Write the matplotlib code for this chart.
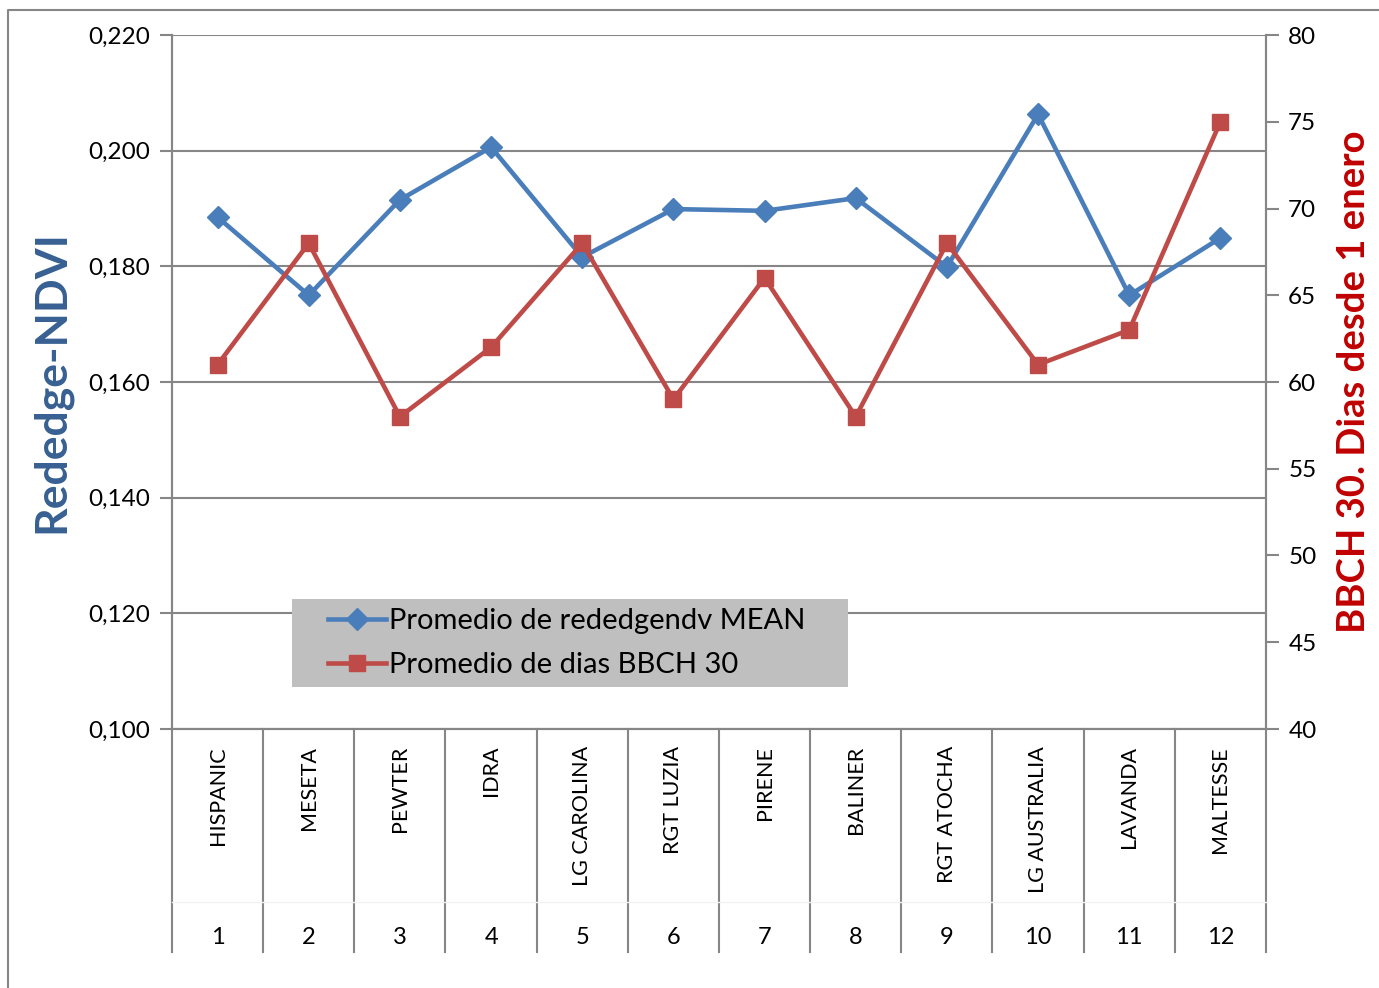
import matplotlib
matplotlib.use("Agg")
import matplotlib.pyplot as plt
from matplotlib.lines import Line2D
from matplotlib.patches import Rectangle

plt.rcParams['font.family'] = ['Lato', 'DejaVu Sans']

# data
variedades = ['HISPANIC', 'MESETA', 'PEWTER', 'IDRA', 'LG CAROLINA', 'RGT LUZIA',
              'PIRENE', 'BALINER', 'RGT ATOCHA', 'LG AUSTRALIA', 'LAVANDA', 'MALTESSE']
numeros = list(range(1, 13))
rededge_ndvi = [0.1885, 0.1750, 0.1915, 0.2006, 0.1816, 0.1899,
                0.1896, 0.1918, 0.1799, 0.2063, 0.1750, 0.1849]
dias_bbch30 = [61, 68, 58, 62, 68, 59, 66, 58, 68, 61, 63, 75]

azul = '#4A7EBB'
rojo = '#BE4B48'
gris = '#868686'

W, H = 1379, 988
fig = plt.figure(figsize=(W / 100, H / 100), dpi=100)
L, R, T, B = 172, 1266, 35, 729
ax = fig.add_axes([L / W, 1 - B / H, (R - L) / W, (B - T) / H])
ax2 = ax.twinx()

ax.set_xlim(0.5, 12.5)
ax.set_ylim(0.100, 0.220)
ax.set_yticks([0.100, 0.120, 0.140, 0.160, 0.180, 0.200, 0.220])
ax.set_yticklabels([f'{v:.3f}'.replace('.', ',') for v in ax.get_yticks()])
ax.set_xticks([])
ax.grid(axis='y', color=gris, lw=1.5)
ax.set_axisbelow(True)

ax2.set_ylim(40, 80)
ax2.set_yticks(range(40, 81, 5))

for a in (ax, ax2):
    for s in a.spines.values():
        s.set_color(gris)
        s.set_linewidth(1.5)
    a.spines['top'].set_visible(False)
    a.tick_params(axis='y', length=9, width=1.5, color=gris, labelsize=17.5, pad=7)

ax.plot(numeros, rededge_ndvi, color=azul, lw=3.3, marker='D', ms=11, zorder=5)
ax2.plot(numeros, dias_bbch30, color=rojo, lw=3.3, marker='s', ms=12, zorder=4)

ax.set_ylabel('Rededge-NDVI', fontsize=32, fontweight='bold', color='#376092')
ax.yaxis.set_label_coords(-(L - 71) / (R - L), 0.5)
ax2.set_ylabel('BBCH 30. Dias desde 1 enero', fontsize=27.5, fontweight='bold',
               color='#C00000', rotation=90)
ax2.yaxis.set_label_coords((1337 - L) / (R - L), 0.5)

# category axis with two levels
tr = ax.get_xaxis_transform()
h = B - T
for i in range(13):
    ax.plot([i + 0.5, i + 0.5], [0, -(952 - B) / h], transform=tr, color=gris,
            lw=1.5, clip_on=False)
ax.plot([0.5, 12.5], [-(902 - B) / h] * 2, transform=tr, color='#F2F2F2', lw=1, clip_on=False)
for n, v in zip(numeros, variedades):
    ax.text(n, -(746 - B) / h, v, transform=tr, rotation=90, ha='center', va='top',
            fontsize=15.5)
    ax.text(n, -(938 - B) / h, str(n), transform=tr, ha='center', va='center', fontsize=17)

# legend on a grey box (on the top axes so it covers the lines)
ax2.add_patch(Rectangle((292 / W, 1 - 687 / H), (848 - 292) / W, (687 - 599) / H,
                        transform=fig.transFigure, facecolor='#BFBFBF', edgecolor='none',
                        zorder=9, clip_on=False))
handles = [Line2D([], [], color=azul, lw=3.3, marker='D', ms=11),
           Line2D([], [], color=rojo, lw=3.3, marker='s', ms=12)]
leg = ax2.legend(handles, ['Promedio de rededgendv MEAN', 'Promedio de dias BBCH 30'],
                 loc='center left', bbox_to_anchor=(328 / W, 1 - 643 / H),
                 bbox_transform=fig.transFigure, fontsize=21, frameon=False,
                 borderaxespad=0, borderpad=0, handlelength=2.0, handletextpad=0.1,
                 labelspacing=0.62)
leg.set_zorder(10)

# outer chart border
fig.add_artist(Line2D([8 / W, 8 / W, 1], [0, 1 - 10 / H, 1 - 10 / H], color=gris, lw=1.5))

fig.savefig('out.png', dpi=100)
